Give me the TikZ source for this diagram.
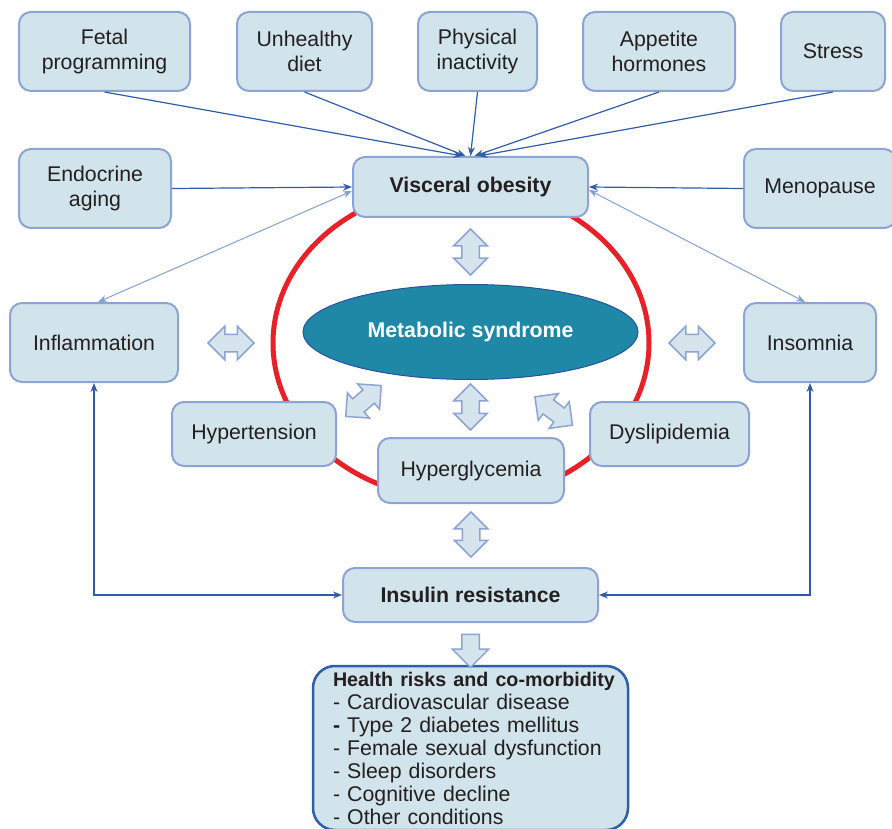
\documentclass[tikz,border=0pt]{standalone}
\usepackage{fontspec}
\setmainfont{Liberation Sans}
\usetikzlibrary{arrows.meta}
\usetikzlibrary{shapes.geometric}
\usetikzlibrary{shapes.arrows}

\definecolor{boxfill}{RGB}{210,228,235}
\definecolor{boxline}{RGB}{139,164,212}
\definecolor{linkblue}{RGB}{47,91,170}
\definecolor{paleblue}{RGB}{130,160,212}
\definecolor{msfill}{RGB}{30,136,166}
\definecolor{msline}{RGB}{40,82,160}
\definecolor{ringred}{RGB}{232,32,40}
\definecolor{txt}{RGB}{35,31,32}
\definecolor{arrfill}{RGB}{214,228,238}
\definecolor{riskline}{RGB}{46,95,170}

\tikzset{
  factor/.style={draw=boxline, fill=boxfill, line width=2pt, rounded corners=12pt,
                 align=center, text=txt, inner sep=0pt},
  link/.style={draw=linkblue, line width=1.2pt, -{Stealth[length=9pt,width=7pt]}},
  bilink/.style={draw=linkblue, line width=1.2pt, {Stealth[length=9pt,width=7pt]}-{Stealth[length=9pt,width=7pt]}},
  palelink/.style={draw=paleblue, line width=1pt, {Stealth[length=9pt,width=7pt]}-{Stealth[length=9pt,width=7pt]}},
  twoway/.style={double arrow, draw=boxline, fill=arrfill, line width=1.5pt,
                 inner sep=8pt, double arrow head extend=8pt, minimum height=46pt},
  oneway/.style={single arrow, draw=boxline, fill=arrfill, line width=1.5pt,
                 inner sep=8pt, single arrow head extend=9.5pt, minimum height=33pt}
}

\begin{document}
\begin{tikzpicture}[x=1pt, y=-1pt, font=\fontsize{21.3}{25}\selectfont]
\useasboundingbox (0,0) rectangle (892,829);

\draw[ringred, line width=5pt] (461,343) ellipse [x radius=188, y radius=157];

\node[factor, minimum width=171pt, minimum height=79pt] (fetal) at (104.5,51.5) {Fetal\\programming};
\node[factor, minimum width=135pt, minimum height=79pt] (diet) at (304.5,51.5) {Unhealthy\\diet};
\node[factor, minimum width=119pt, minimum height=79pt] (inact) at (477.5,51.5) {Physical\\inactivity};
\node[factor, minimum width=152pt, minimum height=79pt] (appet) at (659,51.5) {Appetite\\hormones};
\node[factor, minimum width=104pt, minimum height=79pt] (stress) at (833,51.5) {Stress};

\node[factor, minimum width=152pt, minimum height=79pt] (endo) at (95,188.5) {Endocrine\\aging};
\node[factor, minimum width=235pt, minimum height=60pt, font=\fontsize{21.3}{25}\selectfont\bfseries] (visc) at (470.5,187) {Visceral obesity};
\node[factor, minimum width=152pt, minimum height=79pt] (meno) at (820,188.5) {Menopause};

\node[factor, minimum width=168pt, minimum height=79pt] (infl) at (94,342.5) {Inflammation};
\node[factor, minimum width=132pt, minimum height=79pt] (insom) at (810,342.5) {Insomnia};

\node[ellipse, draw=msline, fill=msfill, line width=1pt, minimum width=335pt, minimum height=95pt,
      text=white, font=\fontsize{21.3}{25}\selectfont\bfseries] (metab) at (470.5,332) {Metabolic syndrome};

\node[factor, minimum width=164pt, minimum height=64pt] (hyten) at (254,434) {Hypertension};
\node[factor, minimum width=186pt, minimum height=65pt] (hygly) at (471,470.5) {Hyperglycemia};
\node[factor, minimum width=159pt, minimum height=64pt] (dysli) at (669.5,434) {Dyslipidemia};

\node[factor, minimum width=255pt, minimum height=54pt, font=\fontsize{21.3}{25}\selectfont\bfseries] (insres) at (470.5,595) {Insulin resistance};

\node[draw=riskline, fill=boxfill, line width=2.5pt, rounded corners=22pt, text=txt,
      minimum height=164pt, text width=275pt, inner xsep=20pt, inner ysep=0pt, align=left,
      font=\fontsize{21.3}{23}\selectfont] (risk) at (470.5,748)
  {\mbox{\fontsize{19.7}{23}\selectfont\textbf{Health risks and co-morbidity}}\\
   - Cardiovascular disease\\
   \textbf{-} Type 2 diabetes mellitus\\
   - Female sexual dysfunction\\
   - Sleep disorders\\
   - Cognitive decline\\
   - Other conditions};

\node[twoway, rotate=90] (vm) at (470.5,252) {};
\node[twoway, rotate=90] (mh) at (470.5,407) {};
\node[twoway, rotate=90, minimum height=45pt] (hi) at (471,534.5) {};
\node[twoway] (lm) at (231,343) {};
\node[twoway] (rm) at (692,343) {};
\node[twoway, rotate=41, minimum height=47pt] (tm) at (363.5,401) {};
\node[twoway, rotate=-37, minimum height=47pt] (dm) at (553.7,411) {};
\node[oneway, rotate=-90] (ir) at (470.5,646.5) {};

\draw[link] (fetal.south) -- ([xshift=-8pt]visc.north);
\draw[link] (diet.south) -- ([xshift=-5pt]visc.north);
\draw[link] (inact.south) -- (visc.north);
\draw[link] (appet.south) -- ([xshift=4pt]visc.north);
\draw[link] (stress.south) -- ([xshift=8pt]visc.north);
\draw[link] (endo.east) -- (visc.west);
\draw[link] (meno.west) -- (visc.east);

\draw[palelink] ([xshift=4pt]infl.north) -- ([yshift=-4pt]visc.west);
\draw[palelink] ([xshift=-5pt]insom.north) -- ([yshift=-3pt]visc.east);

\draw[bilink] (infl.south) |- (insres.west);
\draw[bilink] (insom.south) |- (insres.east);
\end{tikzpicture}
\end{document}
